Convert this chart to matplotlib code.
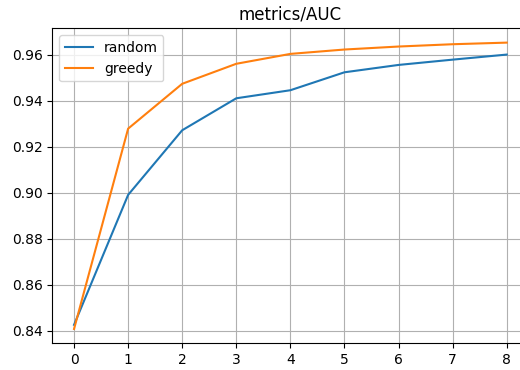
import numpy as np
import matplotlib
matplotlib.use('Agg')
import matplotlib.pyplot as plt

steps = [0, 1, 2, 3, 4, 5, 6, 7, 8]
auc_random = [0.8425, 0.8990, 0.9271, 0.9410, 0.9445, 0.9523, 0.9555, 0.9578, 0.9600]
auc_greedy = [0.8407, 0.9278, 0.9473, 0.9560, 0.9603, 0.9622, 0.9635, 0.9645, 0.9652]

fig = plt.figure(figsize=(5.2, 3.7), dpi=100)
ax = fig.add_subplot(1, 1, 1)
ax.plot(steps, auc_random, label="random")
ax.plot(steps, auc_greedy, label="greedy")
ax.set_title('metrics/AUC')
ax.grid(True)
ax.legend(loc='upper left')

# right edge sits past the canvas, so the right spine is clipped off
plt.subplots_adjust(left=0.1008, bottom=0.0722, right=1.016, top=0.9235)
plt.savefig('out.png')
